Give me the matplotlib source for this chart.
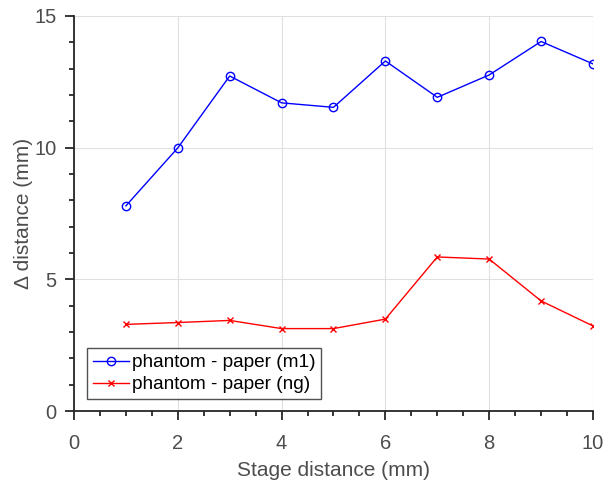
import numpy as np
import matplotlib.pyplot as plt
from matplotlib.ticker import MultipleLocator

plt.rcParams['font.family'] = ['Liberation Sans', 'DejaVu Sans']

stage = [1, 2, 3, 4, 5, 6, 7, 8, 9, 10]
m1 = [7.79, 9.99, 12.72, 11.70, 11.53, 13.29, 11.91, 12.76, 14.03, 13.18]
ng = [3.29, 3.36, 3.44, 3.13, 3.13, 3.49, 5.85, 5.77, 4.18, 3.23]
labels = ['phantom - paper (m1)', 'phantom - paper (ng)']

axc = '#262626'
txc = '#4d4d4d'

fig = plt.figure(figsize=(6.1, 4.83), dpi=100)
ax = fig.add_axes([0.1213, 0.149, 0.8508, 0.818])
ax.plot(stage, m1, '-o', color='blue', lw=1.0, ms=6, mfc='none', mew=1.0, label=labels[0])
ax.plot(stage, ng, '-x', color='red', lw=1.0, ms=4.5, mew=1.0, label=labels[1])

ax.set_xlim(0, 10)
ax.set_ylim(0, 15)
ax.xaxis.set_major_locator(MultipleLocator(2))
ax.xaxis.set_minor_locator(MultipleLocator(0.5))
ax.yaxis.set_major_locator(MultipleLocator(5))
ax.yaxis.set_minor_locator(MultipleLocator(1))
ax.grid(True, which='major', color='#e0e0e0', lw=0.8)
ax.set_axisbelow(True)

for s in ['top', 'right']:
    ax.spines[s].set_visible(False)
for s in ['left', 'bottom']:
    ax.spines[s].set_color(axc)
    ax.spines[s].set_linewidth(1.3)
ax.tick_params(which='both', direction='out', colors=axc, width=1.3, labelcolor=txc, labelsize=14.5)
ax.tick_params(which='major', length=6.5, pad=6)
ax.tick_params(axis='x', which='major', pad=10)
ax.tick_params(which='minor', length=3.5)

ax.set_xlabel('Stage distance (mm)', fontsize=15, color=txc, labelpad=6)
ax.set_ylabel('Δ distance (mm)', fontsize=15, color=txc, labelpad=1)

leg = ax.legend(loc='lower left', bbox_to_anchor=(0.025, 0.03), fontsize=13.7, frameon=True,
                fancybox=False, edgecolor=axc, handlelength=1.9, handletextpad=0.15,
                borderpad=0.3, borderaxespad=0, labelspacing=0.25)
leg.get_frame().set_linewidth(1.0)

fig.savefig('out.png', dpi=100)
